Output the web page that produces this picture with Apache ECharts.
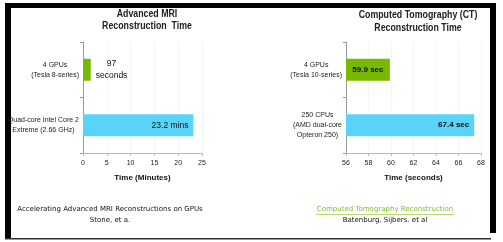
<!DOCTYPE html>
<html>
<head>
<meta charset="utf-8">
<script src="https://cdn.jsdelivr.net/npm/echarts@6/dist/echarts.min.js"></script>
<style>
  html, body { margin: 0; padding: 0; background: #fff; }
  #chart { width: 503px; height: 242px; }
</style>
</head>
<body>
<div id="chart"></div>
<script>
// left panel: MRI (minutes)
const mriCategories = ['4 GPUs\n(Tesla 8-series)', 'Quad-core Intel Core 2\nExtreme (2.66 GHz)'];
const mriValues = [1.62, 23.2];
const mriLabels = ['97\nseconds', '23.2 mins'];
const mriTicks = [0, 25, 5];

// right panel: CT (seconds)
const ctCategories = ['4 GPUs\n(Tesla 10-series)', '250 CPUs\n(AMD dual-core\nOpteron 250)'];
const ctValues = [59.9, 67.4];
const ctLabels = ['59.9 sec', '67.4 sec'];
const ctTicks = [56, 68, 2];

const GREEN = '#76b900';
const BLUE = '#59d3f7';
const FONT = '"Liberation Sans", Arial, sans-serif';
const CAPTION = '"DejaVu Sans", sans-serif';

var chart = echarts.init(document.getElementById('chart'), null, { renderer: 'canvas' });

// wrap every line so the lines are centred on each other
var centred = function(text) {
    return text.split('\n').map(function(s) { return '{c|' + s + '}'; }).join('\n');
};

var xAxisFor = function(ticks, name, gridIndex) {
    return {
        type: 'value',
        gridIndex: gridIndex,
        min: ticks[0],
        max: ticks[1],
        interval: ticks[2],
        name: name,
        nameLocation: 'middle',
        nameGap: 21,
        nameTextStyle: { fontFamily: FONT, fontWeight: 'bold', fontSize: 8, color: '#111' },
        axisLine: { show: true, lineStyle: { color: '#bbb', width: 1 } },
        axisTick: { show: true, length: 3, lineStyle: { color: '#bbb' } },
        axisLabel: { fontFamily: FONT, fontSize: 7, color: '#222', margin: 7 },
        splitLine: { show: true, lineStyle: { color: '#f5f5f5' } }
    };
};

var yAxisFor = function(cats, gridIndex) {
    return {
        type: 'category',
        gridIndex: gridIndex,
        data: cats,
        inverse: true,
        axisLine: { show: true, lineStyle: { color: '#999', width: 1 } },
        axisTick: { show: true, length: 3, lineStyle: { color: '#999' } },
        axisLabel: {
            fontFamily: FONT, fontSize: 7, color: '#222', margin: 4,
            lineHeight: 10,
            formatter: centred,
            rich: { c: { fontFamily: FONT, fontSize: 7, color: '#222', lineHeight: 10, align: 'center' } }
        }
    };
};

var barData = function(values, labels, opts) {
    return values.map(function(v, i) {
        var o = opts[i];
        return {
            value: v,
            itemStyle: { color: i === 0 ? GREEN : BLUE },
            label: {
                show: true,
                formatter: centred(labels[i]),
                position: o.pos,
                distance: 5,
                rich: {
                    c: {
                        fontFamily: FONT, fontSize: o.size, fontWeight: o.weight,
                        color: '#111', lineHeight: 12, align: 'center'
                    }
                }
            }
        };
    });
};

var option = {
    animation: false,
    backgroundColor: '#fff',
    title: [
        {
            text: 'Accelerating Advanced MRI Reconstructions on GPUs\nStone, et a.',
            left: 110, top: 204, textAlign: 'center', padding: 0,
            textStyle: { fontFamily: CAPTION, fontWeight: 'normal', fontSize: 7, color: '#111', lineHeight: 11 }
        },
        {
            text: '{link|Computed Tomography Reconstruction}\nBatenburg, Sijbers. et al',
            left: 385, top: 204, textAlign: 'center', padding: 0,
            textStyle: {
                fontFamily: CAPTION, fontWeight: 'normal', fontSize: 7, color: '#111', lineHeight: 11,
                rich: { link: { fontFamily: CAPTION, fontSize: 7, color: '#80c030', lineHeight: 11 } }
            }
        }
    ],
    grid: [
        { left: 83, top: 42, width: 119, height: 111 },
        { left: 346, top: 42, width: 135, height: 111 }
    ],
    xAxis: [
        xAxisFor(mriTicks, 'Time (Minutes)', 0),
        xAxisFor(ctTicks, 'Time (seconds)', 1)
    ],
    yAxis: [
        yAxisFor(mriCategories, 0),
        yAxisFor(ctCategories, 1)
    ],
    series: [
        {
            type: 'bar', xAxisIndex: 0, yAxisIndex: 0,
            barWidth: 22,
            data: barData(mriValues, mriLabels, [
                { pos: 'right', size: 8.5, weight: 'normal' },
                { pos: 'insideRight', size: 8.5, weight: 'normal' }
            ])
        },
        {
            type: 'bar', xAxisIndex: 1, yAxisIndex: 1,
            barWidth: 22,
            data: barData(ctValues, ctLabels, [
                { pos: 'inside', size: 8, weight: 'bold' },
                { pos: 'insideRight', size: 8, weight: 'bold' }
            ])
        }
    ],
    graphic: [
        // condensed panel titles
        {
            type: 'text', x: 147, y: 8, scaleX: 0.8,
            style: { text: 'Advanced MRI\nReconstruction  Time', textAlign: 'center', lineHeight: 12,
                     font: 'bold 11px ' + FONT, fill: '#222' }
        },
        {
            type: 'text', x: 418, y: 8, scaleX: 0.8,
            style: { text: 'Computed Tomography (CT)\nReconstruction Time', textAlign: 'center', lineHeight: 13,
                     font: 'bold 11px ' + FONT, fill: '#222' }
        },
        // slide frame
        { type: 'rect', shape: { x: 5, y: 3, width: 491, height: 5 }, style: { fill: '#000' } },
        { type: 'rect', shape: { x: 5, y: 3, width: 6, height: 236 }, style: { fill: '#000' } },
        { type: 'rect', shape: { x: 490, y: 3, width: 6, height: 230 }, style: { fill: '#000' } },
        { type: 'rect', shape: { x: 5, y: 238, width: 486, height: 1.5 }, style: { fill: '#333' } },
        // link underline
        { type: 'line', shape: { x1: 316, y1: 214.5, x2: 454, y2: 214.5 }, style: { stroke: '#b8dc6a', lineWidth: 1 } }
    ]
};

chart.setOption(option);
</script>
</body>
</html>
